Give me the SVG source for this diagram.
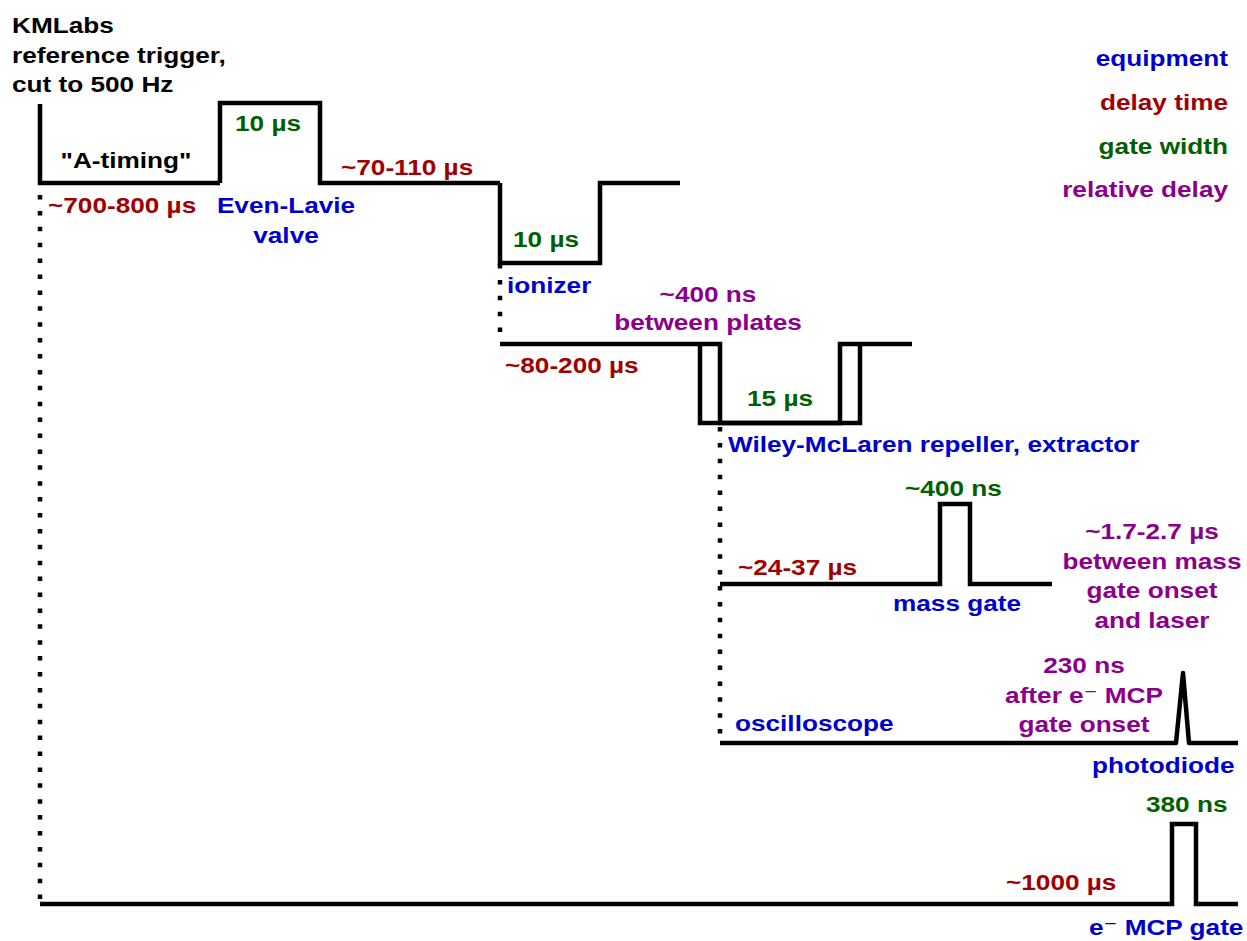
<svg xmlns="http://www.w3.org/2000/svg" width="1247" height="941" viewBox="0 0 1247 941">
<style>
text{font-family:"Liberation Sans",Arial,"DejaVu Sans",sans-serif;font-weight:bold;font-size:22px}
.k{fill:#000}.b{fill:#0000CC}.r{fill:#A00000}.g{fill:#006000}.p{fill:#8B008B}
.m{text-anchor:middle}.e{text-anchor:end}
.tr{fill:none;stroke:#000;stroke-width:4.5;stroke-linejoin:miter}
.dot{fill:none;stroke:#000;stroke-width:4.5;stroke-dasharray:4.5 11.4}
</style>
<rect width="1247" height="941" fill="#fff"/>
<g id="legend">
<text class="b e" transform="translate(1228,66) scale(1.19,1)">equipment</text>
<text class="r e" transform="translate(1228,110) scale(1.19,1)">delay time</text>
<text class="g e" transform="translate(1228,154) scale(1.19,1)">gate width</text>
<text class="p e" transform="translate(1228,197) scale(1.19,1)">relative delay</text>
</g>
<g id="connectors">
<line class="dot" x1="40" y1="195" x2="40" y2="902"/>
<line class="dot" x1="500" y1="264" x2="500" y2="342"/>
<line class="dot" x1="720" y1="427" x2="720" y2="741"/>
</g>
<g id="kmlabs">
<text class="k" transform="translate(12,33) scale(1.19,1)">KMLabs</text>
<text class="k" transform="translate(12,63) scale(1.19,1)">reference trigger,</text>
<text class="k" transform="translate(12,92) scale(1.19,1)">cut to 500 Hz</text>
<text class="k m" transform="translate(126,168) scale(1.19,1)">"A-timing"</text>
<polyline class="tr" points="40,104 40,183 220,183"/>
</g>
<g id="even-lavie">
<polyline class="tr" points="220,183 220,103 320,103 320,183 500,183"/>
<text class="g" transform="translate(235,131) scale(1.19,1)">10 µs</text>
<text class="r" transform="translate(48,213) scale(1.19,1)">~700-800 µs</text>
<text class="b m" transform="translate(286,213) scale(1.19,1)">Even-Lavie</text>
<text class="b m" transform="translate(286,243) scale(1.19,1)">valve</text>
</g>
<g id="ionizer">
<polyline class="tr" points="500,183 500,263 600,263 600,183 680,183"/>
<text class="r" transform="translate(341,175) scale(1.19,1)">~70-110 µs</text>
<text class="g" transform="translate(513,247) scale(1.19,1)">10 µs</text>
<text class="b" transform="translate(507,293) scale(1.19,1)">ionizer</text>
</g>
<g id="wiley-mclaren">
<polyline class="tr" points="500,344 720,344 720,423 840,423 840,344 912,344"/>
<polyline class="tr" points="700,344 700,423 860,423 860,344"/>
<text class="p m" transform="translate(708,302) scale(1.19,1)">~400 ns</text>
<text class="p m" transform="translate(708,330) scale(1.19,1)">between plates</text>
<text class="r" transform="translate(505,373) scale(1.19,1)">~80-200 µs</text>
<text class="g" transform="translate(747,406) scale(1.19,1)">15 µs</text>
<text class="b" transform="translate(728,452) scale(1.19,1)">Wiley-McLaren repeller, extractor</text>
</g>
<g id="mass-gate">
<polyline class="tr" points="720,584 940,584 940,504 970,504 970,584 1052,584"/>
<text class="g" transform="translate(905,496) scale(1.19,1)">~400 ns</text>
<text class="r" transform="translate(738,575) scale(1.19,1)">~24-37 µs</text>
<text class="b" transform="translate(893,611) scale(1.19,1)">mass gate</text>
<text class="p m" transform="translate(1152,539) scale(1.19,1)">~1.7-2.7 µs</text>
<text class="p m" transform="translate(1152,568.5) scale(1.19,1)">between mass</text>
<text class="p m" transform="translate(1152,598) scale(1.19,1)">gate onset</text>
<text class="p m" transform="translate(1152,627.5) scale(1.19,1)">and laser</text>
</g>
<g id="photodiode">
<polyline class="tr" style="stroke-linejoin:round" points="720,743 1176,743 1183,673 1189,743 1238,743"/>
<text class="b" transform="translate(735,731) scale(1.19,1)">oscilloscope</text>
<text class="p m" transform="translate(1084,673) scale(1.19,1)">230 ns</text>
<text class="p m" transform="translate(1084,703) scale(1.19,1)">after e⁻ MCP</text>
<text class="p m" transform="translate(1084,732) scale(1.19,1)">gate onset</text>
<text class="b" transform="translate(1092,773) scale(1.19,1)">photodiode</text>
</g>
<g id="mcp-gate">
<polyline class="tr" points="40,904 1172,904 1172,824 1196,824 1196,904 1238,904"/>
<text class="g" transform="translate(1146,812) scale(1.19,1)">380 ns</text>
<text class="r" transform="translate(1006,890) scale(1.19,1)">~1000 µs</text>
<text class="b" transform="translate(1089,935) scale(1.19,1)">e⁻ MCP gate</text>
</g>
</svg>
